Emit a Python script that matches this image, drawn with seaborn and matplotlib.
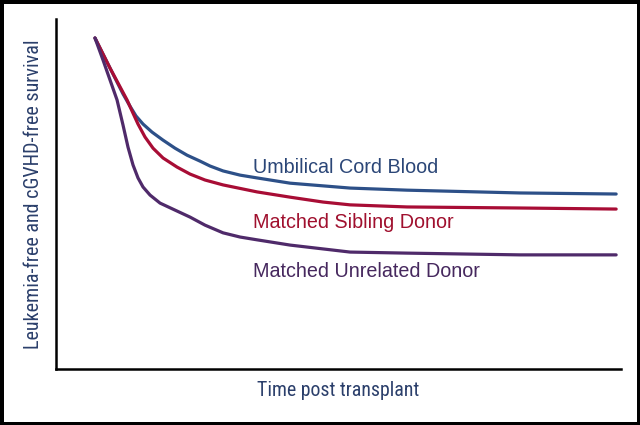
"""Schematic survival curves by donor type."""

import matplotlib

matplotlib.use("Agg")
import matplotlib.pyplot as plt
import pandas as pd
import seaborn as sns

# time in arbitrary units (axis runs 0..100), survival fraction (axis 0..1)
ucb_time = [6.9, 9.56, 11.86, 13.1, 14.16, 15.4, 16.99, 18.94, 21.06, 23.19, 25.49,
            27.26, 29.56, 32.57, 35.58, 41.42, 52.04, 62.12, 82.12, 99.12]
ucb_surv = [0.946, 0.860, 0.786, 0.751, 0.723, 0.700, 0.677, 0.654, 0.631, 0.611, 0.594,
            0.580, 0.566, 0.554, 0.546, 0.531, 0.517, 0.511, 0.503, 0.500]

msd_time = [6.9, 9.56, 12.57, 13.63, 14.51, 15.75, 17.17, 18.94, 21.42, 23.72, 26.37,
            29.56, 35.58, 41.42, 47.26, 52.04, 62.12, 82.12, 99.12]
msd_surv = [0.946, 0.860, 0.769, 0.731, 0.700, 0.663, 0.631, 0.603, 0.577, 0.557, 0.540,
            0.526, 0.506, 0.491, 0.477, 0.469, 0.463, 0.460, 0.457]

mud_time = [6.9, 8.32, 9.56, 10.8, 11.86, 12.74, 13.63, 14.51, 15.4, 16.64, 18.41,
            21.06, 23.72, 26.37, 29.56, 32.57, 35.58, 41.42, 47.26, 52.04, 62.12,
            82.12, 99.12]
mud_surv = [0.946, 0.883, 0.826, 0.769, 0.697, 0.634, 0.583, 0.546, 0.520, 0.497, 0.474,
            0.454, 0.434, 0.411, 0.389, 0.377, 0.369, 0.354, 0.343, 0.334, 0.331,
            0.326, 0.326]

groups = ["Umbilical Cord Blood", "Matched Sibling Donor", "Matched Unrelated Donor"]
line_colors = ["#2d5088", "#a80d35", "#4f2a6a"]
text_colors = ["#2b4677", "#a0102e", "#46285e"]
label_y = [0.560, 0.403, 0.263]

frame = pd.concat(
    [
        pd.DataFrame({"time": ucb_time, "surv": ucb_surv, "group": groups[0]}),
        pd.DataFrame({"time": msd_time, "surv": msd_surv, "group": groups[1]}),
        pd.DataFrame({"time": mud_time, "surv": mud_surv, "group": groups[2]}),
    ],
    ignore_index=True,
)

sns.set_style("white")
plt.rcParams["font.family"] = ["Liberation Sans", "DejaVu Sans"]

fig = plt.figure(figsize=(6.4, 4.25), dpi=100)
fig.patch.set_edgecolor("black")
fig.patch.set_linewidth(5)
ax = fig.add_axes([0.0875, 0.132, 0.883, 0.823])

sns.lineplot(
    data=frame,
    x="time",
    y="surv",
    hue="group",
    palette=dict(zip(groups, line_colors)),
    linewidth=2.3,
    sort=False,
    legend=False,
    ax=ax,
)
for line in ax.lines:
    line.set_solid_joinstyle("round")
    line.set_solid_capstyle("round")

for name, color, ypos in zip(groups, text_colors, label_y):
    ax.text(34.9, ypos, name, color=color, fontsize=14.2, va="baseline", ha="left")

ax.set_xlim(0, 100)
ax.set_ylim(0, 1)
ax.set_xticks([])
ax.set_yticks([])
for side in ["top", "right"]:
    ax.spines[side].set_visible(False)
for side in ["left", "bottom"]:
    ax.spines[side].set_color("black")
    ax.spines[side].set_linewidth(1.8)

# condensed face for the axis titles
narrow = ["Roboto Condensed", "Liberation Sans Narrow", "DejaVu Sans"]
ax.set_xlabel("Time post transplant", fontsize=14.3, color="#2b3f6b",
              family=narrow, fontstretch="condensed", labelpad=9)
ax.set_ylabel("Leukemia-free and cGVHD-free survival", fontsize=14.5,
              color="#2b3f6b", family=narrow, fontstretch="condensed", labelpad=9)

fig.savefig("out.png", dpi=100)
